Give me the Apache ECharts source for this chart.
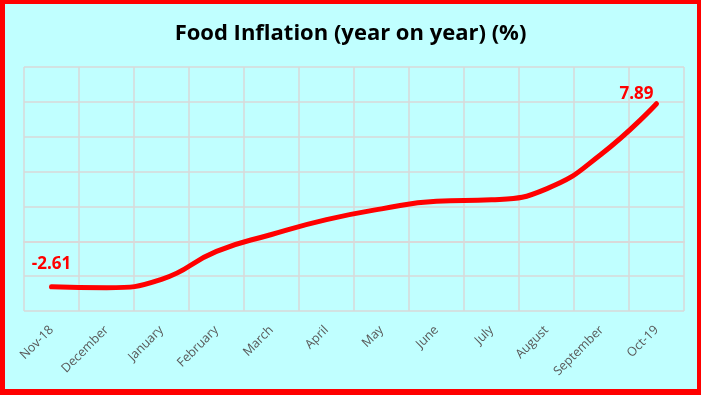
<!DOCTYPE html>
<html>
<head>
<meta charset="utf-8">
<script src="https://cdn.jsdelivr.net/npm/echarts@6/dist/echarts.min.js"></script>
<style>
html,body{margin:0;padding:0;background:#ff0000;}
#c{width:701px;height:395px;}
</style>
</head>
<body>
<div id="c"></div>
<script>
var categories = ['Nov-18','December','January','February','March','April','May','June','July','August','September','Oct-19'];
var foodInflation = [-2.61, -2.66, -2.18, -0.58, 0.39, 1.24, 1.86, 2.30, 2.38, 3.01, 5.01, 7.89];
var titleText = 'Food Inflation (year on year) (%)';

var chart = echarts.init(document.getElementById('c'), null, {renderer:'canvas'});
var lastIdx = foodInflation.length - 1;
var seriesData = foodInflation.map(function(v, i){
  if (i === 0) {
    return {value: v, label: {show: true, position: 'top', offset: [0, -8]}};
  }
  if (i === lastIdx) {
    return {value: v, label: {show: true, position: 'top', offset: [-20, 5]}};
  }
  return v;
});
chart.setOption({
  backgroundColor: '#ff0000',
  graphic: [{
    type: 'rect', z: -10, silent: true,
    shape: {x: 5, y: 4, width: 692, height: 385},
    style: {fill: '#c0ffff'}
  }],
  title: {
    text: titleText, left: 'center', top: 18,
    textStyle: {fontFamily: 'Open Sans', fontWeight: 'bold', fontSize: 22, color: '#000'}
  },
  animation: false,
  grid: {left: 24, right: 17, top: 67, bottom: 84, containLabel: false},
  xAxis: {
    type: 'category', data: categories, boundaryGap: true,
    axisLine: {show: true, lineStyle: {color: '#d9d9d9', width: 2}},
    axisTick: {show: false},
    splitLine: {show: true, lineStyle: {color: '#d9d9d9', width: 1.5}},
    axisLabel: {rotate: 45, color: '#595959', fontFamily: 'Open Sans', fontSize: 12.5, margin: 17, interval: 0}
  },
  yAxis: {
    type: 'value', min: -4, max: 10, interval: 2,
    axisLabel: {show: false}, axisLine: {show: false}, axisTick: {show: false},
    splitLine: {show: true, lineStyle: {color: '#d9d9d9', width: 1.5}}
  },
  series: [{
    type: 'line', data: seriesData, smooth: 0.5,
    symbol: 'circle', symbolSize: 2, showSymbol: true,
    itemStyle: {color: '#ff0000'},
    lineStyle: {color: '#ff0000', width: 5, cap: 'round'},
    label: {show: false, color: '#ff0000', fontFamily: 'Open Sans', fontWeight: 'bold', fontSize: 17,
      formatter: function(p){ return p.value.toFixed(2); }}
  }]
});
</script>
</body>
</html>
